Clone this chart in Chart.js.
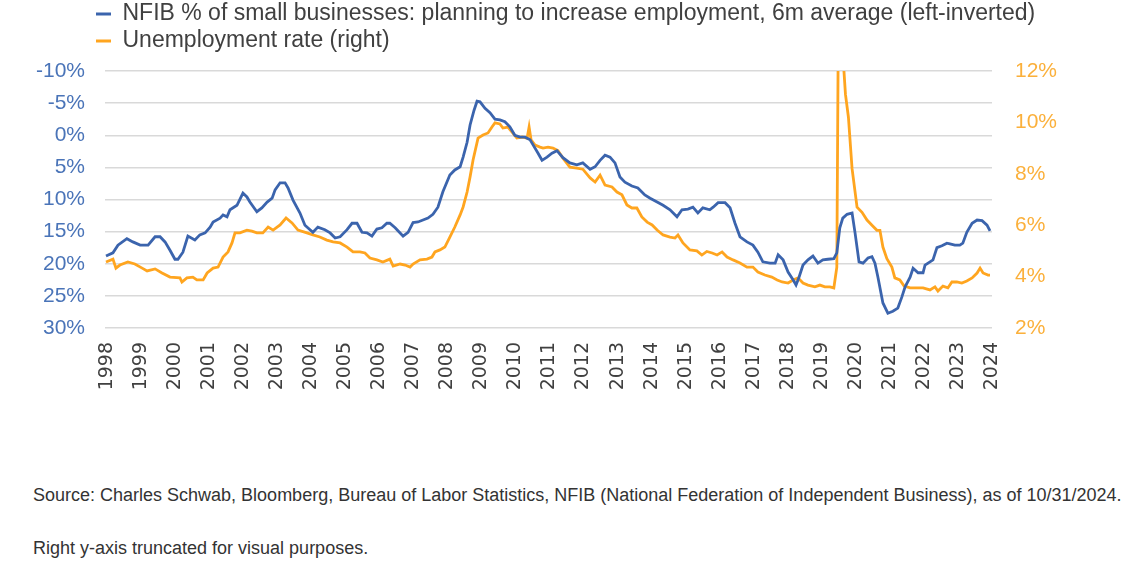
<!DOCTYPE html>
<html>
<head>
<meta charset="utf-8">
<script src="https://cdn.jsdelivr.net/npm/chart.js@4.4.1/dist/chart.umd.min.js"></script>
<style>
  html, body { margin: 0; padding: 0; background: #fff; }
  #wrap { position: absolute; left: 0; top: 0; width: 1142px; height: 430px; }
  .note { position: absolute; left: 33px; font-family: 'Liberation Sans', Arial, sans-serif; font-size: 18px; line-height: 1; color: #333; white-space: nowrap; }
</style>
</head>
<body>
<div id="wrap"><canvas id="chart"></canvas></div>
<div class="note" style="top:486px">Source: Charles Schwab, Bloomberg, Bureau of Labor Statistics, NFIB (National Federation of Independent Business), as of 10/31/2024.</div>
<div class="note" style="top:539px">Right y-axis truncated for visual purposes.</div>
<script>
// x positions are decimal years as placed on the original's axis
const YEARS = ['1998','1999','2000','2001','2002','2003','2004','2005','2006','2007','2008','2009','2010',
  '2011','2012','2013','2014','2015','2016','2017','2018','2019','2020','2021','2022','2023','2024'];
const X_MIN = 1998, X_MAX = 2024.75;

// NFIB % planning to increase employment, 6m avg (left axis, inverted)
const NFIB_T = [
  1998.03,1998.24,1998.39,1998.66,1998.84,1999.06,1999.30,1999.51,1999.66,1999.81,
  1999.96,2000.11,2000.20,2000.35,2000.50,2000.71,2000.86,2001.02,2001.17,2001.26,
  2001.47,2001.56,2001.68,2001.77,2001.98,2002.16,2002.28,2002.37,2002.58,2002.73,
  2002.89,2003.04,2003.13,2003.28,2003.43,2003.52,2003.67,2003.88,2004.03,2004.27,
  2004.42,2004.63,2004.79,2004.94,2005.09,2005.30,2005.45,2005.60,2005.75,2005.90,
  2006.05,2006.20,2006.35,2006.50,2006.59,2006.75,2006.90,2006.99,2007.14,2007.29,
  2007.44,2007.59,2007.74,2007.89,2008.04,2008.19,2008.40,2008.55,2008.71,2008.80,
  2008.92,2009.01,2009.13,2009.22,2009.31,2009.46,2009.61,2009.76,2009.91,2010.06,
  2010.21,2010.36,2010.52,2010.67,2010.82,2010.91,2011.06,2011.18,2011.33,2011.48,
  2011.63,2011.81,2012.02,2012.23,2012.41,2012.63,2012.78,2012.93,2013.08,2013.23,
  2013.38,2013.53,2013.68,2013.89,2014.07,2014.28,2014.44,2014.65,2014.83,2015.04,
  2015.25,2015.40,2015.58,2015.73,2015.88,2016.03,2016.24,2016.34,2016.49,2016.70,
  2016.85,2017.00,2017.15,2017.36,2017.54,2017.69,2017.84,2018.05,2018.21,2018.30,
  2018.45,2018.60,2018.75,2018.84,2018.93,2019.05,2019.20,2019.35,2019.50,2019.65,
  2019.80,2019.98,2020.07,2020.16,2020.25,2020.38,2020.53,2020.62,2020.74,2020.86,
  2021.01,2021.13,2021.22,2021.31,2021.46,2021.61,2021.76,2021.91,2022.03,2022.13,
  2022.28,2022.37,2022.52,2022.67,2022.73,2022.88,2022.97,2023.09,2023.24,2023.39,
  2023.48,2023.63,2023.78,2023.87,2023.99,2024.15,2024.30,2024.45,2024.60,2024.69];
const NFIB_PCT = [
  18.8,18.3,17.1,16.1,16.6,17.1,17.1,15.8,15.8,16.6,
  17.9,19.3,19.3,18.2,15.7,16.3,15.5,15.2,14.3,13.5,
  12.9,12.4,12.7,11.6,10.9,9.0,9.6,10.4,11.9,11.3,
  10.4,9.8,8.5,7.4,7.4,8.2,10.1,12.1,14.0,15.1,
  14.3,14.7,15.2,16.0,15.8,14.7,13.7,13.7,15.1,15.2,
  15.7,14.6,14.4,13.7,13.7,14.4,15.2,15.7,15.1,13.6,
  13.5,13.2,12.9,12.3,11.2,8.8,6.2,5.4,4.9,3.4,
  1.1,-1.6,-3.9,-5.3,-5.2,-4.2,-3.5,-2.5,-2.4,-2.1,
  -1.3,0.0,0.3,0.3,0.7,1.5,2.8,3.9,3.4,2.8,
  2.4,3.5,4.3,4.6,4.3,5.3,4.9,3.9,3.1,3.4,
  4.3,6.5,7.3,7.9,8.2,9.3,9.8,10.4,10.9,11.6,
  12.7,11.6,11.5,11.2,12.1,11.3,11.6,11.2,10.5,10.5,
  11.3,13.7,15.8,16.6,17.1,18.2,19.7,19.9,19.9,18.6,
  19.4,21.3,22.5,23.3,22.1,20.2,19.4,18.8,19.9,19.4,
  19.3,19.2,18.3,14.4,12.9,12.3,12.1,15.2,19.7,19.9,
  19.1,18.9,19.9,22.1,26.1,27.7,27.4,26.9,25.2,23.6,
  22.1,20.7,21.4,21.4,20.2,19.7,19.4,17.5,17.2,16.8,
  16.9,17.1,17.1,16.8,15.1,13.7,13.2,13.3,14.0,14.9];

// Unemployment rate (right axis, cut off at 12%)
const UNEMP_T = [
  1998.03,1998.24,1998.33,1998.45,1998.69,1998.90,1999.12,1999.27,1999.51,1999.72,
  1999.96,2000.26,2000.32,2000.47,2000.65,2000.77,2000.96,2001.08,2001.26,2001.41,
  2001.56,2001.71,2001.83,2001.92,2002.07,2002.28,2002.43,2002.58,2002.76,2002.92,
  2003.07,2003.28,2003.46,2003.64,2003.82,2004.09,2004.27,2004.48,2004.69,2004.88,
  2005.09,2005.30,2005.48,2005.69,2005.84,2005.99,2006.20,2006.38,2006.59,2006.69,
  2006.90,2007.05,2007.20,2007.29,2007.50,2007.71,2007.86,2007.95,2008.10,2008.25,
  2008.40,2008.55,2008.71,2008.80,2008.92,2009.01,2009.10,2009.25,2009.40,2009.55,
  2009.67,2009.76,2009.91,2010.00,2010.15,2010.27,2010.42,2010.58,2010.73,2010.79,
  2010.85,2010.97,2011.12,2011.21,2011.36,2011.51,2011.66,2011.81,2012.02,2012.23,
  2012.41,2012.63,2012.78,2012.93,2013.08,2013.29,2013.44,2013.59,2013.74,2013.89,
  2014.04,2014.19,2014.35,2014.50,2014.65,2014.83,2015.04,2015.19,2015.28,2015.43,
  2015.64,2015.85,2016.00,2016.15,2016.31,2016.46,2016.61,2016.76,2016.94,2017.15,
  2017.36,2017.54,2017.69,2017.90,2018.11,2018.27,2018.42,2018.60,2018.75,2018.90,
  2019.05,2019.20,2019.41,2019.56,2019.71,2019.86,2019.98,2020.07,2020.12,2020.22,
  2020.33,2020.42,2020.53,2020.68,2020.83,2020.98,2021.13,2021.28,2021.37,2021.46,
  2021.58,2021.73,2021.82,2021.97,2022.10,2022.28,2022.49,2022.67,2022.88,2023.03,
  2023.12,2023.27,2023.42,2023.54,2023.69,2023.84,2023.99,2024.15,2024.30,2024.39,
  2024.48,2024.63,2024.69];
const UNEMP_PCT = [
  4.57,4.68,4.33,4.45,4.57,4.49,4.33,4.22,4.30,4.14,
  3.98,3.95,3.79,3.95,3.98,3.87,3.87,4.14,4.33,4.37,
  4.76,4.96,5.31,5.70,5.70,5.81,5.77,5.70,5.70,5.93,
  5.81,6.01,6.28,6.09,5.81,5.70,5.62,5.54,5.42,5.35,
  5.31,5.15,4.96,4.96,4.92,4.72,4.65,4.57,4.68,4.41,
  4.49,4.45,4.37,4.49,4.65,4.68,4.76,4.96,5.04,5.15,
  5.54,5.93,6.40,6.71,7.29,7.88,8.54,9.39,9.51,9.59,
  9.82,9.98,9.94,9.78,9.82,9.63,9.39,9.43,9.39,9.82,
  9.32,9.12,9.04,9.00,9.04,9.00,8.90,8.61,8.26,8.22,
  8.18,7.84,7.68,7.95,7.56,7.49,7.29,7.18,6.79,6.67,
  6.67,6.32,6.12,6.01,5.81,5.62,5.54,5.50,5.62,5.31,
  5.04,5.00,4.84,4.98,4.92,4.84,4.96,4.76,4.65,4.53,
  4.37,4.37,4.18,4.06,3.98,3.87,3.79,3.75,3.87,3.95,
  3.75,3.67,3.60,3.67,3.60,3.60,3.56,4.37,14.7,13.3,
  11.1,10.2,8.2,6.7,6.5,6.2,6.0,5.8,5.8,5.15,
  4.7,4.37,3.95,3.87,3.63,3.56,3.56,3.56,3.48,3.6,
  3.44,3.63,3.56,3.79,3.79,3.75,3.83,3.95,4.14,4.33,
  4.14,4.06,4.06];

const BLUE   = '#3b64ad';
const ORANGE = '#ffa51f';

const toPoints = (t, v) => t.map((x, i) => ({ x, y: v[i] }));

// move the legend over the plot and pull it up a bit, like the original
const legendShift = {
  id: 'legendShift',
  afterLayout(chart) {
    chart.legend.left = 92;
    chart.legend.top -= 8.5;
  }
};

new Chart(document.getElementById('chart'), {
  type: 'line',
  data: {
    datasets: [
      { label: 'NFIB % of small businesses: planning to increase employment, 6m average (left-inverted)',
        data: toPoints(NFIB_T, NFIB_PCT), yAxisID: 'y',
        borderColor: BLUE, backgroundColor: BLUE, borderWidth: 2.8, pointRadius: 0, tension: 0, clip: 0 },
      { label: 'Unemployment rate (right)',
        data: toPoints(UNEMP_T, UNEMP_PCT), yAxisID: 'y1',
        borderColor: ORANGE, backgroundColor: ORANGE, borderWidth: 2.8, pointRadius: 0, tension: 0, clip: 0 },
    ],
  },
  options: {
    responsive: true,
    maintainAspectRatio: false,
    animation: false,
    layout: { padding: { top: 7 } },
    plugins: {
      tooltip: { enabled: false },
      legend: {
        position: 'top', align: 'start',
        labels: {
          boxWidth: 15, boxHeight: 3, padding: 4, color: '#404040',
          font: { family: 'Liberation Sans', size: 23 },
          generateLabels: c => Chart.defaults.plugins.legend.labels.generateLabels(c).map(l => ({ ...l, lineWidth: 0 })),
        },
      },
    },
    scales: {
      x: {
        type: 'linear', min: X_MIN, max: X_MAX,
        grid: { display: false, drawTicks: false },
        border: { display: false },
        afterBuildTicks: s => {
          s.ticks = YEARS.map((_, i) => ({ value: X_MIN + 0.06 + i * (X_MAX - X_MIN - 0.06) / (YEARS.length - 1) }));
        },
        afterFit: s => { s.height = 102; },
        ticks: {
          autoSkip: false, minRotation: 90, maxRotation: 90, padding: 14, color: '#404040',
          font: { family: 'DejaVu Sans', size: 19 },
          callback: (v, i) => YEARS[i],
        },
      },
      y: {
        position: 'left', reverse: true, min: -10, max: 30,
        grid: { color: '#d9d9d9', lineWidth: 1.5, drawTicks: false },
        border: { display: false },
        afterFit: s => { s.width = 105; },
        ticks: { stepSize: 5, padding: 20, color: '#4a74b8', font: { family: 'Liberation Sans', size: 21 }, callback: v => v + '%' },
      },
      y1: {
        position: 'right', min: 2, max: 12,
        grid: { display: false, drawTicks: false },
        border: { display: false },
        afterFit: s => { s.width = 150; },
        ticks: { stepSize: 2, padding: 23, color: '#fbb03b', font: { family: 'Liberation Sans', size: 21 }, callback: v => v + '%' },
      },
    },
  },
  plugins: [legendShift],
});
</script>
</body>
</html>
